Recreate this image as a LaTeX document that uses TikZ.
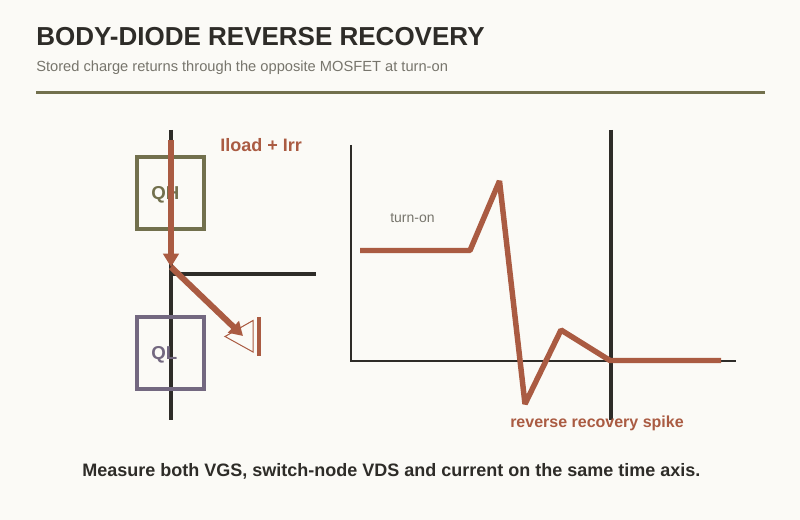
\documentclass[tikz,border=0pt]{standalone}
\usepackage{fontspec}
\usepackage{xcolor}
\setmainfont{Liberation Sans}
\usetikzlibrary{positioning,arrows.meta}
\definecolor{paper}{HTML}{FBFAF6}
\definecolor{ink}{HTML}{2E2C28}
\definecolor{olive}{HTML}{72704D}
\definecolor{mauve}{HTML}{736880}
\definecolor{rust}{HTML}{AA5B42}
\definecolor{mute}{HTML}{77756C}
\tikzset{
  lbl/.style     ={inner sep=0pt, anchor=base west, font=\fontsize{#1}{#1}\selectfont},
  boldlbl/.style ={inner sep=0pt, anchor=base west, font=\fontsize{#1}{#1}\selectfont\bfseries},
  wire/.style    ={draw=ink, line width=3pt},
  axisln/.style  ={draw=ink, line width=2pt},
  fet/.style     ={draw=#1, line width=3pt, minimum width=50.25pt, minimum height=54pt, inner sep=0pt},
  current/.style ={draw=rust, line width=4.1pt},
  currarr/.style ={current, line width=4.5pt, -{Triangle[length=10pt,width=11.5pt]}},
  trace/.style   ={current, line join=bevel},
}
\begin{document}
\begin{tikzpicture}[x=0.75pt,y=-0.75pt]
\fill[paper] (0,0) rectangle (800,520);
\useasboundingbox (0,0) rectangle (800,520);
% heading
\node[boldlbl=19.5pt, text=ink] (title) at (36,46) {BODY-DIODE REVERSE RECOVERY};
\node[lbl=11pt, text=mute] (sub) at (36,72) {Stored charge returns through the opposite MOSFET at turn-on};
\coordinate (ruleL) at (36,92.5);
\coordinate (ruleR) at (765,92.5);
\draw[draw=olive, line width=2.25pt] (ruleL) -- (ruleR);
% half bridge
\coordinate (railT) at (171,130);
\coordinate (railB) at (171,420);
\coordinate (sw) at (171,274);
\coordinate (swR) at (316,274);
\draw[wire] (railT) -- (railB);
\draw[wire] (sw) -- (swR);
\node[fet=olive] (qh) at (170.5,193) {};
\node[fet=mauve] (ql) at (170.5,353) {};
\node[boldlbl=14pt, text=olive] (qhlbl) at (151,200) {QH};
\node[boldlbl=14pt, text=mauve] (qllbl) at (151,359) {QL};
% diode
\coordinate (dA) at (225,336.5);
\coordinate (dB) at (253,320.5);
\coordinate (dC) at (253,352);
\draw[draw=rust, line width=0.75pt] (dA) -- (dB) -- (dC) -- cycle;
\coordinate (barT) at (259,317);
\coordinate (barB) at (259,356);
\draw[current, line width=3pt] (barT) -- (barB);
% current path
\coordinate (iT) at (171,140);
\coordinate (iM) at (171,267);
\coordinate (iE) at (243,336);
\draw[currarr] (iT) -- (iM);
\draw[currarr] (iM) -- (iE);
\node[boldlbl=13.5pt, text=rust] (iload) at (220,152) {Iload + Irr};
% waveform axes
\coordinate (ax0) at (351,361);
\coordinate (axY) at (351,145);
\coordinate (axX) at (736,361);
\draw[axisln] (axY) -- (ax0) -- (axX);
\coordinate (mT) at (611,130);
\coordinate (mB) at (611,420);
\draw[wire] (mT) -- (mB);
% recovery trace
\coordinate (t0) at (360,250.5);
\coordinate (t1) at (470,250.5);
\coordinate (t2) at (499.5,181);
\coordinate (t3) at (525,404);
\coordinate (t4) at (561,330);
\coordinate (t5) at (610,360.5);
\coordinate (t6) at (721,360.5);
\draw[trace] (t0) -- (t1) -- (t2) -- (t3) -- (t4) -- (t5) -- (t6);
\node[lbl=10.5pt, text=mute] (ton) at (390,222.5) {turn-on};
\node[boldlbl=12pt, text=rust] (spike) at (510,427) {reverse recovery spike};
% note
\node[boldlbl=13.5pt, text=ink] (note) at (82,476) {Measure both VGS, switch-node VDS and current on the same time axis.};
\end{tikzpicture}
\end{document}
